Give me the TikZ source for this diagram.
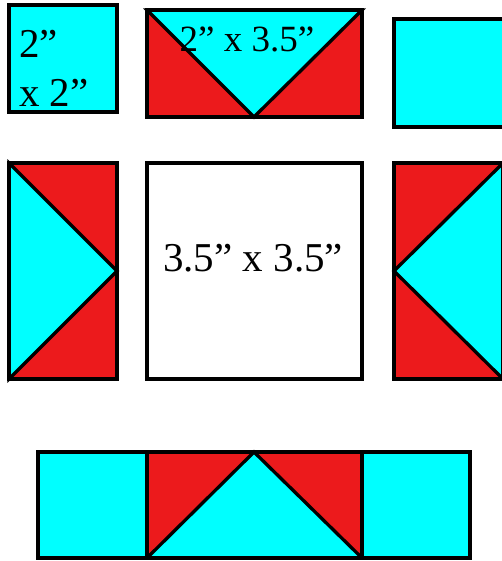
\documentclass[tikz,border=0pt]{standalone}
\usepackage{fontspec}
\setmainfont{Liberation Serif}
\definecolor{qcyan}{RGB}{0,255,255}
\definecolor{qred}{RGB}{236,26,28}
\begin{document}
\begin{tikzpicture}[x=1pt,y=-1pt,
  edge/.style={draw=black,line width=3.3pt},
  lbl/.style={inner sep=0pt,font=\fontsize{41}{49}\selectfont}]
\useasboundingbox (0,0) rectangle (501,561);
% top-left square
\filldraw[edge,fill=qcyan] (9,5) rectangle (117,112);
\node[lbl,anchor=base west] (t1) at (19,58) {2”};
\node[lbl,anchor=base west] (t2) at (19,107) {x 2”};
% top middle flying geese
\fill[qred] (147,10) rectangle (362,117);
\filldraw[edge,fill=qcyan] (147,10) -- (362,10) -- (254,117) -- cycle;
\draw[edge] (147,10) rectangle (362,117);
\node[lbl,anchor=base,font=\fontsize{37}{44}\selectfont] (t3) at (247,52) {2” x 3.5”};
% top right square
\filldraw[edge,fill=qcyan] (394,19) rectangle (505,127);
% middle left
\fill[qred] (9,163) rectangle (117,379);
\filldraw[edge,fill=qcyan] (9,163) -- (117,271) -- (9,379) -- cycle;
\draw[edge] (9,163) rectangle (117,379);
% middle centre
\filldraw[edge,fill=white] (147,163) rectangle (362,379);
\node[lbl,anchor=base] (t4) at (253,271) {3.5” x 3.5”};
% middle right
\fill[qred] (394,163) rectangle (503,379);
\filldraw[edge,fill=qcyan] (503,163) -- (394,271) -- (503,379) -- cycle;
\draw[edge] (394,163) rectangle (503,379);
% bottom strip
\fill[qcyan] (38,452) rectangle (470,558);
\fill[qred] (147,452) rectangle (362,558);
\filldraw[edge,fill=qcyan] (147,558) -- (254,452) -- (362,558) -- cycle;
\draw[edge] (38,452) rectangle (470,558);
\draw[edge] (147,452) -- (147,558);
\draw[edge] (362,452) -- (362,558);
\end{tikzpicture}
\end{document}
